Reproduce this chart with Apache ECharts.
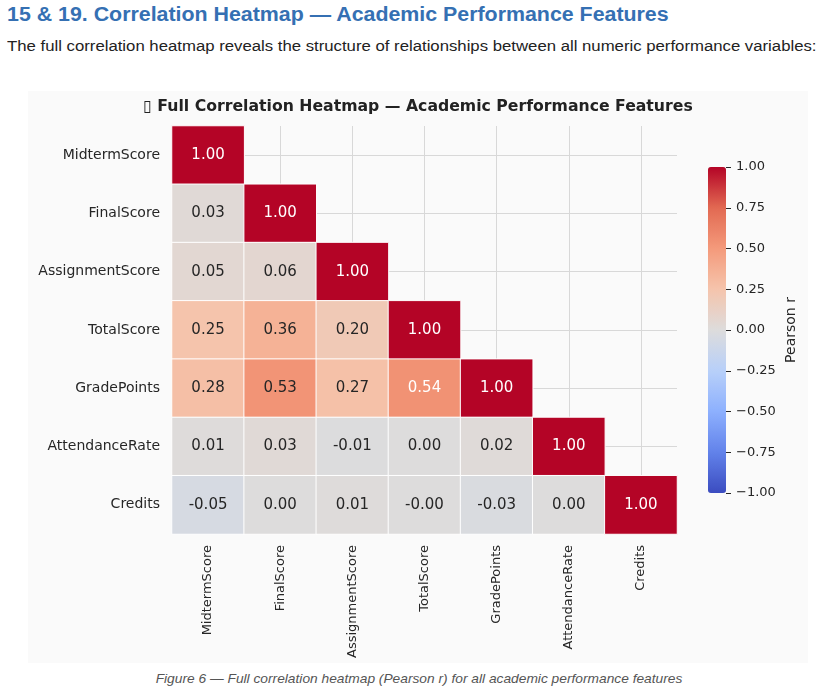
<!DOCTYPE html>
<html>
<head>
<meta charset="utf-8">
<script src="https://cdn.jsdelivr.net/npm/echarts@6/dist/echarts.min.js"></script>
<style>
  body { margin: 0; background: #fff; width: 838px; height: 691px; position: relative; overflow: hidden; }
  .h { position: absolute; left: 7px; top: 2px; font: bold 20px/24px "Liberation Sans", Arial, sans-serif; color: #3570b3; white-space: nowrap; transform: scaleX(1.068); transform-origin: left center; }
  .sub { position: absolute; left: 7px; top: 37px; font: 15.5px/18px "Liberation Sans", Arial, sans-serif; color: #222; white-space: nowrap; transform: scaleX(1.08); transform-origin: left center; }
  #main { position: absolute; left: 28px; top: 91px; width: 780px; height: 572px; background: #fafafa; }
  .cap { position: absolute; left: 0; width: 838px; top: 671px; text-align: center; font: italic 13px/16px "Liberation Sans", Arial, sans-serif; color: #555; transform: scaleX(1.058); transform-origin: 419px center; }
</style>
</head>
<body>
<div class="h">15 &amp; 19. Correlation Heatmap — Academic Performance Features</div>
<div class="sub">The full correlation heatmap reveals the structure of relationships between all numeric performance variables:</div>
<div id="main"></div>
<div class="cap">Figure 6 — Full correlation heatmap (Pearson r) for all academic performance features</div>
<script>
// feature names (rows top->bottom, columns left->right)
const features = ['MidtermScore', 'FinalScore', 'AssignmentScore', 'TotalScore', 'GradePoints', 'AttendanceRate', 'Credits']

// lower triangle of the Pearson matrix, one array per row
const corrMidterm    = [1.00]
const corrFinal      = [0.03, 1.00]
const corrAssignment = [0.05, 0.06, 1.00]
const corrTotal      = [0.25, 0.36, 0.20, 1.00]
const corrGrade      = [0.28, 0.53, 0.27, 0.54, 1.00]
const corrAttendance = [0.01, 0.03, -0.01, 0.00, 0.02, 1.00]
const corrCredits    = [-0.05, 0.00, 0.01, -0.002, -0.03, 0.00, 1.00]
const corrRows = [corrMidterm, corrFinal, corrAssignment, corrTotal, corrGrade, corrAttendance, corrCredits]

// coolwarm stops, -1 .. 1
const coolwarm = ['#3b4cc0', '#6282ea', '#8db0fe', '#b8d0f9', '#dddcdc', '#f5c4ac', '#f49a7b', '#e26952', '#b40426']

var cells = []
corrRows.forEach(function (row, i) {
  row.forEach(function (v, j) {
    cells.push({
      value: [j, i, v],
      label: { color: v > 0.535 ? '#ffffff' : '#262626' }
    })
  })
})

var gridLines = features.map(function (f) { return { xAxis: f } })
  .concat(features.map(function (f) { return { yAxis: f } }))

var myChart = echarts.init(document.getElementById('main'))

var option = {
  animation: false,
  textStyle: { fontFamily: 'DejaVu Sans' },
  title: {
    text: '\u25AF Full Correlation Heatmap \u2014 Academic Performance Features',
    left: 'center',
    top: 3,
    textStyle: { fontFamily: 'DejaVu Sans', fontSize: 15.7, fontWeight: 'bold', color: '#222' }
  },
  grid: [
    { left: 144, top: 35, width: 505, height: 408, outerBoundsMode: 'none' },
    { left: 680, top: 76, width: 18, height: 326, outerBoundsMode: 'none' }
  ],
  xAxis: [
    {
      type: 'category', data: features, gridIndex: 0,
      axisLine: { show: false }, axisTick: { show: false }, splitLine: { show: false },
      axisLabel: { rotate: 90, margin: 11, fontSize: 13, color: '#262626', interval: 0 }
    },
    { type: 'value', gridIndex: 1, show: false, min: 0, max: 1 }
  ],
  yAxis: [
    {
      type: 'category', data: features, inverse: true, gridIndex: 0,
      axisLine: { show: false }, axisTick: { show: false }, splitLine: { show: false },
      axisLabel: { margin: 12, fontSize: 14, color: '#262626', interval: 0 }
    },
    {
      type: 'value', gridIndex: 1, position: 'right', min: -1, max: 1, interval: 0.25,
      axisLine: { show: true, onZero: false, lineStyle: { color: 'rgba(0,0,0,0)' } },
      axisTick: { show: true, length: 5, lineStyle: { color: '#262626', width: 1 } },
      splitLine: { show: false },
      axisLabel: {
        margin: 10, fontSize: 13, color: '#262626',
        formatter: function (v) { return (v < 0 ? '\u2212' : '') + Math.abs(v).toFixed(2) }
      },
      name: 'Pearson r', nameLocation: 'middle', nameRotate: 90, nameGap: 58,
      nameTextStyle: { fontSize: 14, color: '#262626' }
    }
  ],
  visualMap: {
    type: 'continuous', min: -1, max: 1, seriesIndex: 1,
    calculable: false, hoverLink: false, realtime: false,
    orient: 'vertical', left: 680, top: 76, padding: 0,
    itemWidth: 18, itemHeight: 326,
    inRange: { color: coolwarm }
  },
  series: [
    {
      // background grid through cell centres
      type: 'line', data: [], xAxisIndex: 0, yAxisIndex: 0, z: 1,
      markLine: {
        silent: true, symbol: 'none', z: 1, animation: false,
        label: { show: false },
        lineStyle: { color: '#d8d8d8', width: 1, type: 'solid' },
        data: gridLines
      }
    },
    {
      type: 'heatmap', xAxisIndex: 0, yAxisIndex: 0, z: 2,
      data: cells,
      itemStyle: { borderColor: '#ffffff', borderWidth: 1 },
      label: {
        show: true, fontSize: 15,
        formatter: function (p) { return p.value[2].toFixed(2) }
      },
      emphasis: { disabled: true }
    }
  ]
}

myChart.setOption(option)
</script>
</body>
</html>
